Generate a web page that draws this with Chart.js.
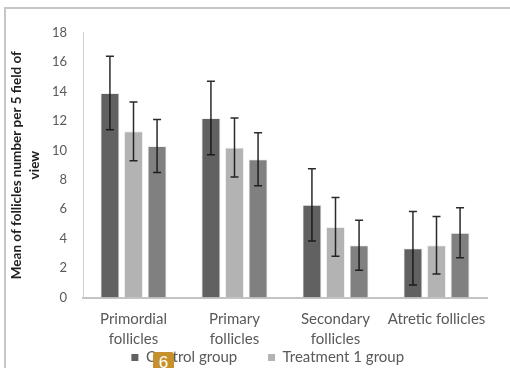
<!DOCTYPE html>
<html>
<head>
<meta charset="utf-8">
<script src="https://cdn.jsdelivr.net/npm/chart.js@4.4.1/dist/chart.umd.min.js"></script>
<style>
  html, body { margin: 0; padding: 0; background: #fff; }
  body { width: 510px; height: 368px; overflow: hidden; position: relative; }
  #frame { position: absolute; left: 4px; top: 7px; width: 506px; height: 361px;
           border-left: 2px solid #c6c6c6; border-top: 2px solid #c6c6c6; box-sizing: border-box; }
  #chart { position: absolute; left: 5px; top: 9px; }
  #badge { position: absolute; left: 153px; top: 352px; width: 21px; height: 22px;
           background: #c6902b; border-radius: 3px 3px 0 0; color: #fff;
           font: 17px "Liberation Sans", sans-serif; text-align: center; line-height: 21px; }
</style>
</head>
<body>
<div id="frame"></div>
<canvas id="chart" width="505" height="385"></canvas>
<div id="badge">6</div>
<script>
// values
const categories = [['Primordial', 'follicles'], ['Primary', 'follicles'], ['Secondary', 'follicles'], 'Atretic follicles'];
const seriesNames = ['Control group', 'Treatment 1 group', 'Treatment 2 group'];
const controlMeans = [13.9, 12.2, 6.3, 3.35];
const treat1Means = [11.3, 10.2, 4.8, 3.55];
const treat2Means = [10.3, 9.4, 3.55, 4.4];
const controlErr = [2.5, 2.5, 2.45, 2.5];
const treat1Err = [2.0, 2.0, 2.0, 1.95];
const treat2Err = [1.8, 1.8, 1.7, 1.7];
const yTicks = [0, 2, 4, 6, 8, 10, 12, 14, 16, 18];

const colors = ['#616161', '#b3b3b3', '#808080'];
const textColor = '#595959';
const font = 'Lato';

// error bars drawn from the bar elements and the y scale
const errorBars = {
  id: 'errorBars',
  afterDatasetsDraw(chart) {
    const ctx = chart.ctx;
    const y = chart.scales.y;
    ctx.save();
    ctx.strokeStyle = 'rgba(20,20,20,0.9)';
    ctx.lineWidth = 1.5;
    chart.data.datasets.forEach((ds, i) => {
      const meta = chart.getDatasetMeta(i);
      meta.data.forEach((bar, j) => {
        const v = ds.data[j], e = ds.errors[j];
        const top = y.getPixelForValue(v + e);
        const bot = y.getPixelForValue(v - e);
        ctx.beginPath();
        ctx.moveTo(bar.x, top); ctx.lineTo(bar.x, bot);
        ctx.moveTo(bar.x - 4, top); ctx.lineTo(bar.x + 4, top);
        ctx.moveTo(bar.x - 4, bot); ctx.lineTo(bar.x + 4, bot);
        ctx.stroke();
      });
    });
    ctx.restore();
  }
};

// Excel puts legend entries in wide columns; trailing spaces give the same spacing
const legendGap = [7, 9, 0];
const pad = (s, n) => s + ' '.repeat(n);

new Chart(document.getElementById('chart'), {
  type: 'bar',
  data: {
    labels: categories,
    datasets: [
      { label: seriesNames[0], data: controlMeans, errors: controlErr, backgroundColor: colors[0] },
      { label: seriesNames[1], data: treat1Means, errors: treat1Err, backgroundColor: colors[1] },
      { label: seriesNames[2], data: treat2Means, errors: treat2Err, backgroundColor: colors[2] }
    ]
  },
  options: {
    responsive: false,
    animation: false,
    layout: { padding: { top: 20, right: 23, left: 0, bottom: 0 } },
    datasets: { bar: { categoryPercentage: 0.7, barPercentage: 0.81, borderWidth: 1, borderColor: 'rgba(230,230,230,0.6)' } },
    scales: {
      x: {
        afterFit: axis => { axis.height = 48.5; },
        grid: { display: false, drawTicks: false },
        border: { color: '#c4c4c4', width: 2 },
        ticks: { color: textColor, font: { family: font, size: 15, lineHeight: 1.33 }, padding: 12, maxRotation: 0, autoSkip: false }
      },
      y: {
        min: 0, max: 18,
        afterBuildTicks: axis => { axis.ticks = yTicks.map(v => ({ value: v })); },
        afterFit: axis => { axis.width = 78; },
        grid: { display: false, drawTicks: false },
        border: { color: '#d0d0d0', width: 1 },
        ticks: { color: textColor, font: { family: font, size: 13 }, padding: 16 },
        title: {
          display: true,
          text: ['Mean of follicles number per 5 field of', 'view'],
          color: '#1f1f1f',
          font: { family: font, size: 13.5, weight: 'bold', lineHeight: 1.33 },
          padding: { top: 3, bottom: 10 }
        }
      }
    },
    plugins: {
      tooltip: { enabled: false },
      legend: {
        position: 'bottom',
        fullSize: false,
        labels: {
          color: textColor,
          font: { family: font, size: 15 },
          boxWidth: 7, boxHeight: 7, padding: 4,
          generateLabels: chart => {
            const items = Chart.defaults.plugins.legend.labels.generateLabels(chart);
            return items.map((it, i) => Object.assign(it, { text: pad(it.text, legendGap[i]), lineWidth: 0 }));
          }
        }
      }
    }
  },
  plugins: [errorBars]
});
</script>
</body>
</html>
